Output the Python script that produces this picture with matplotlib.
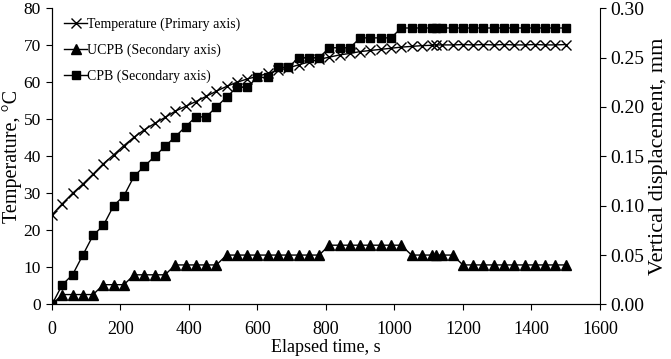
import numpy as np
import matplotlib
matplotlib.use("Agg")
import matplotlib.pyplot as plt

plt.rcParams['font.family'] = ['Liberation Serif', 'DejaVu Serif']
plt.rcParams['font.size'] = 10

# elapsed time (s): every 30 s, with one extra reading near 1120 s
time_s = [0, 30, 60, 90, 120, 150, 180, 210, 240, 270, 300, 330, 360, 390, 420,
          450, 480, 510, 540, 570, 600, 630, 660, 690, 720, 750, 780, 810, 840,
          870, 900, 930, 960, 990, 1020, 1050, 1080, 1110, 1120, 1140, 1170,
          1200, 1230, 1260, 1290, 1320, 1350, 1380, 1410, 1440, 1470, 1500]

temperature = [24.2, 27.2, 30.0, 32.5, 35.2, 38.0, 40.4, 42.9, 45.2, 47.2, 48.9,
               50.5, 52.2, 53.5, 54.8, 56.2, 57.6, 58.9, 60.0, 60.9, 61.6, 62.4,
               63.2, 63.9, 64.7, 65.5, 66.2, 66.8, 67.4, 67.8, 68.3, 68.6, 68.9,
               69.2, 69.5, 69.7, 69.9, 70.0, 70.1, 70.1, 70.1, 70.2, 70.1, 70.2,
               70.1, 70.2, 70.1, 70.1, 70.2, 70.1, 70.1, 70.2]

ucpb = [0.00, 0.01, 0.01, 0.01, 0.01, 0.02, 0.02, 0.02, 0.03, 0.03, 0.03, 0.03,
        0.04, 0.04, 0.04, 0.04, 0.04, 0.05, 0.05, 0.05, 0.05, 0.05, 0.05, 0.05,
        0.05, 0.05, 0.05, 0.06, 0.06, 0.06, 0.06, 0.06, 0.06, 0.06, 0.06, 0.05,
        0.05, 0.05, 0.05, 0.05, 0.05, 0.04, 0.04, 0.04, 0.04, 0.04, 0.04, 0.04,
        0.04, 0.04, 0.04, 0.04]

cpb = [0.00, 0.02, 0.03, 0.05, 0.07, 0.08, 0.10, 0.11, 0.13, 0.14, 0.15, 0.16,
       0.17, 0.18, 0.19, 0.19, 0.20, 0.21, 0.22, 0.22, 0.23, 0.23, 0.24, 0.24,
       0.25, 0.25, 0.25, 0.26, 0.26, 0.26, 0.27, 0.27, 0.27, 0.27, 0.28, 0.28,
       0.28, 0.28, 0.28, 0.28, 0.28, 0.28, 0.28, 0.28, 0.28, 0.28, 0.28, 0.28,
       0.28, 0.28, 0.28, 0.28]

fig = plt.figure(figsize=(6.71, 3.59), dpi=100)
ax = fig.add_axes([0.0775, 0.152, 0.8165, 0.825])
ax2 = ax.twinx()

l1, = ax.plot(time_s, temperature, color='black', lw=1, marker='x', ms=6.5,
              mew=1, label='Temperature (Primary axis)')
l2, = ax2.plot(time_s, ucpb, color='black', lw=1, marker='^', ms=6.5,
               label='UCPB (Secondary axis)')
l3, = ax2.plot(time_s, cpb, color='black', lw=1, marker='s', ms=5.5,
               label='CPB (Secondary axis)')

ax.set_xlim(0, 1600)
ax.set_ylim(0, 80)
ax2.set_ylim(0, 0.30)
ax.set_xticks(np.arange(0, 1601, 200))
ax.set_yticks(np.arange(0, 81, 10))
ax2.set_yticks(np.arange(0, 0.301, 0.05))
ax2.set_yticklabels([f"{v:.2f}" for v in np.arange(0, 0.301, 0.05)])

for a in (ax, ax2):
    a.spines['top'].set_visible(False)
    a.tick_params(direction='out', length=4, width=0.8, labelsize=14)
ax.spines['right'].set_visible(False)
ax.tick_params(axis='x', labelsize=13, pad=8)
ax.tick_params(axis='y', labelsize=12.5, pad=4)

ax.set_xlabel('Elapsed time, s', fontsize=13, labelpad=1)
ax.set_ylabel('Temperature, °C', fontsize=14.5)
ax.yaxis.set_label_coords(-0.055, 0.5)
ax2.set_ylabel('Vertical displacement, mm', fontsize=16, labelpad=3)

ax.legend(handles=[l1, l2, l3], loc='upper left', frameon=False,
          handlelength=1.6, handletextpad=0.05, labelspacing=0.9,
          fontsize=10, bbox_to_anchor=(0.005, 1.0), borderaxespad=0.3)

fig.savefig('out.png', dpi=100)
